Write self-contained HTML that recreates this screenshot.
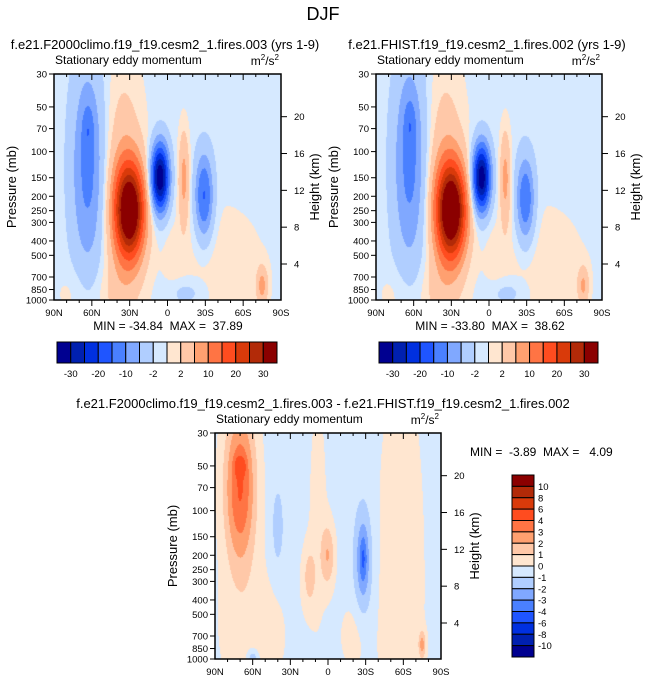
<!DOCTYPE html>
<html><head><meta charset="utf-8"><style>
body{margin:0;background:#fff;width:647px;height:683px;overflow:hidden;position:relative;font-family:"Liberation Sans",sans-serif}
canvas{position:absolute}
svg{position:absolute;left:0;top:0}
svg text{white-space:pre}
</style></head><body>
<canvas id="c1" width="227" height="226" style="left:54px;top:74px"></canvas>
<canvas id="c2" width="226" height="226" style="left:376px;top:74px"></canvas>
<canvas id="c3" width="226" height="226" style="left:215px;top:433px"></canvas>
<svg id="s" width="647" height="683"></svg>
<script>
// Blob data: lat, pressure(mb), lat-width(deg), log-p width, amplitude
const p1Lat=[63,63,30,35,6,-13,-29,-40,-75,-15,75,-5,45];
const p1P=[130,70,250,200,150,150,200,600,800,900,900,500,900];
const p1SL=[9,3,8,11,4.8,3,5,30,3,10,10,5,12];
const p1SP=[1.1,0.25,0.5,1.3,0.35,0.5,0.45,0.8,0.2,0.15,0.3,0.3,0.3];
const p1A=[-11,-5,38,6,-35,8,-15,1.7,8,-3,1.5,1.5,1.5];
const p1Base=-0.8;
const p2Lat=[63,63,30,35,6,-13,-29,-40,-75,-15,75,-5,45];
const p2P=[120,65,250,200,150,150,210,600,800,900,900,500,900];
const p2SL=[9,3,8,11,4.8,3,5,30,3,10,10,5,12];
const p2SP=[1.1,0.25,0.5,1.3,0.35,0.5,0.45,0.8,0.2,0.15,0.3,0.3,0.3];
const p2A=[-11,-5,39,6,-34,8,-14,1.7,7,-3,1.5,1.5,1.5];
const p2Base=-0.8;
const p3Lat=[70,70,-28,-28,0,15,40,-58,60,8,-75,60,-20];
const p3P=[70,50,220,210,200,280,130,300,700,100,800,1000,700];
const p3SL=[9,3,5,2,4,4,3,14,22,6,2,3,8];
const p3SP=[0.9,0.1,0.6,0.25,0.35,0.35,0.4,2.5,0.8,1.5,0.15,0.1,0.4];
const p3A=[4.5,2,-2.5,-1.5,2.2,1.6,-1.5,1.0,0.8,0.7,2.5,-2,0.8];
const p3Base=-0.4;
const levels1=[-30,-25,-20,-15,-10,-6,-2,0,2,6,10,15,20,25,30];
const levels3=[-10,-8,-6,-4,-3,-2,-1,0,1,2,3,4,6,8,10];
const bar1Labels=["-30","-20","-10","-2","2","10","20","30"];
const bar3Labels=["-10","-8","-6","-4","-3","-2","-1","0","1","2","3","4","6","8","10"];
const colors=["#000090","#0020b0","#0030e0","#1f55ff","#4a80ff","#80a8ff","#b0ceff","#d6e9ff","#ffe6d0","#ffc8a8","#ffa070","#ff7444","#ff4c1f","#d93a0a","#b22a08","#8b0000"];
const pTicks=[30,50,70,100,150,200,250,300,400,500,700,850,1000];
const hTicks=[20,16,12,8,4];
const latTicks=[90,60,30,0,-30,-60,-90];
const latLabels=["90N","60N","30N","0","30S","60S","90S"];

const NS="http://www.w3.org/2000/svg";
const svg=document.getElementById('s');
function el(t,a,txt){const e=document.createElementNS(NS,t);for(const k in a)e.setAttribute(k,a[k]);if(txt!==undefined)e.textContent=txt;svg.appendChild(e);return e;}
function yOf(p,top,h){return top+Math.log(p/30)/Math.log(1000/30)*h;}
function xOf(l,left,w){return left+(90-l)/180*w;}
function field(lat,p,B){let v=B.base;for(let i=0;i<B.lat.length;i++){const dl=(lat-B.lat[i])/B.sl[i];const dp=Math.log(p/B.p[i])/B.sp[i];v+=B.a[i]*Math.exp(-0.5*(dl*dl+dp*dp));}return v;}
function cls(v,lv){let k=0;while(k<lv.length&&v>lv[k])k++;return k;}
function draw(id,B,lv){const c=document.getElementById(id),g=c.getContext('2d'),W=c.width,H=c.height;
 for(let j=0;j<H;j++){const p=30*Math.pow(1000/30,(j+0.5)/H);for(let i=0;i<W;i++){const lat=90-(i+0.5)/W*180;g.fillStyle=colors[cls(field(lat,p,B),lv)];g.fillRect(i,j,1,1);}}}
draw('c1',{lat:p1Lat,p:p1P,sl:p1SL,sp:p1SP,a:p1A,base:p1Base},levels1);
draw('c2',{lat:p2Lat,p:p2P,sl:p2SL,sp:p2SP,a:p2A,base:p2Base},levels1);
draw('c3',{lat:p3Lat,p:p3P,sl:p3SL,sp:p3SP,a:p3A,base:p3Base},levels3);

el('text',{x:323,y:20,'font-size':18,'text-anchor':'middle',},'DJF');
function panel(L,T,W,H,title,tx,name){
 el('text',{x:tx,y:T-25,'font-size':13,'text-anchor':'middle',},title);
 el('text',{x:L+1,y:T-10,'font-size':12,},'Stationary eddy momentum');
 const u=el('text',{x:L+W-2,y:T-9,'font-size':12,'text-anchor':'end',});
 u.innerHTML='m<tspan font-size="8" dy="-5">2</tspan><tspan dy="5">/s</tspan><tspan font-size="8" dy="-5">2</tspan>';
 el('rect',{x:L,y:T,width:W,height:H,fill:'none',stroke:'#000','stroke-width':1.5,});
 pTicks.forEach(p=>{const y=yOf(p,T,H);el('line',{x1:L-5,x2:L,y1:y,y2:y,stroke:'#000'});
  el('text',{x:L-7,y:y+3.5,'font-size':9.5,'text-anchor':'end',},p);});
 hTicks.forEach(z=>{const y=yOf(1013*Math.exp(-z/7),T,H);el('line',{x1:L+W,x2:L+W+6,y1:y,y2:y,stroke:'#000'});
  el('text',{x:L+W+13,y:y+3.5,'font-size':9.5,},z);});
 for(let l=-80;l<=80;l+=10){const x=xOf(l,L,W);const mj=l%30===0;el('line',{x1:x,x2:x,y1:T,y2:T+(mj?6:3),stroke:'#000'});el('line',{x1:x,x2:x,y1:T+H,y2:T+H+(mj?6:3),stroke:'#000'});}
 latTicks.forEach((l,i)=>{el('text',{x:xOf(l,L,W),y:T+H+16,'font-size':9.5,'text-anchor':'middle',},latLabels[i]);});
 el('text',{x:0,y:0,'font-size':13,'text-anchor':'middle',transform:`translate(${L-38},${T+H/2}) rotate(-90)`,},'Pressure (mb)');
 el('text',{x:0,y:0,'font-size':13,'text-anchor':'middle',transform:`translate(${L+W+38},${T+H/2}) rotate(-90)`,},'Height (km)');
}
panel(54,74,227,226,'f.e21.F2000climo.f19_f19.cesm2_1.fires.003 (yrs 1-9)',165,'panel1');
panel(376,74,226,226,'f.e21.FHIST.f19_f19.cesm2_1.fires.002 (yrs 1-9)',487,'panel2');
panel(215,433,226,226,'f.e21.F2000climo.f19_f19.cesm2_1.fires.003 - f.e21.FHIST.f19_f19.cesm2_1.fires.002',323,'panel3');
el('text',{x:168,y:330,'font-size':12,'text-anchor':'middle',},'MIN = -34.84  MAX =  37.89');
el('text',{x:490,y:330,'font-size':12,'text-anchor':'middle',},'MIN = -33.80  MAX =  38.62');
el('text',{x:470,y:456,'font-size':12,},'MIN =  -3.89  MAX =   4.09');
function hbar(L,W,name){const bw=W/16;colors.forEach((c,i)=>el('rect',{x:L+i*bw,y:342,width:bw,height:21,fill:c,stroke:'#000','stroke-width':1,}));
 bar1Labels.forEach((t,k)=>el('text',{x:L+(2*k+1)*bw,y:377,'font-size':9.5,'text-anchor':'middle',},t));}
hbar(57,220,'colorbar1');hbar(379,219,'colorbar2');
const bh=182/16;
colors.slice().reverse().forEach((c,i)=>el('rect',{x:512,y:475+i*bh,width:22,height:bh,fill:c,stroke:'#000','stroke-width':1,}));
bar3Labels.slice().reverse().forEach((t,i)=>el('text',{x:538,y:475+(i+1)*bh+3.5,'font-size':9.5,},t));
</script></body></html>
